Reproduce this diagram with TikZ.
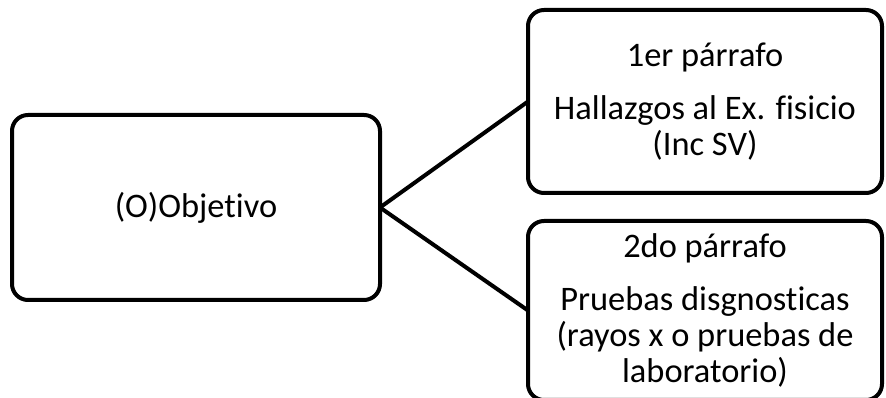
\documentclass[tikz,border=0pt]{standalone}
\usepackage{fontspec}
\setmainfont{Carlito}[Ligatures=NoCommon]
\usetikzlibrary{positioning}

\tikzset{
  notebox/.style={draw, line width=4pt, rounded corners=16pt, align=center,
    inner sep=0pt, outer sep=0pt, font=\fontsize{34.4}{36}\selectfont},
  link/.style={line width=4pt},
}

\begin{document}
\begin{tikzpicture}[x=1pt, y=1pt, node distance=148pt]
  \useasboundingbox (0,0) rectangle (886,398);
  \node (obj) [notebox, minimum width=368pt, minimum height=185pt] at (196,190.5) {(O)Objetivo};
  \node (first) [notebox, minimum width=354pt, minimum height=183pt, right=of obj, yshift=106pt]
    {1er párrafo\\[17pt]Hallazgos al Ex. fisicio\\(Inc SV)};
  \node (second) [notebox, minimum width=354pt, minimum height=179pt, right=of obj, yshift=-103pt]
    {2do párrafo\\[17pt]Pruebas disgnosticas\\(rayos x o pruebas de\\laboratorio)};
  \draw[link] (obj.east) -- (first.west);
  \draw[link] (obj.east) -- (second.west);
\end{tikzpicture}
\end{document}
